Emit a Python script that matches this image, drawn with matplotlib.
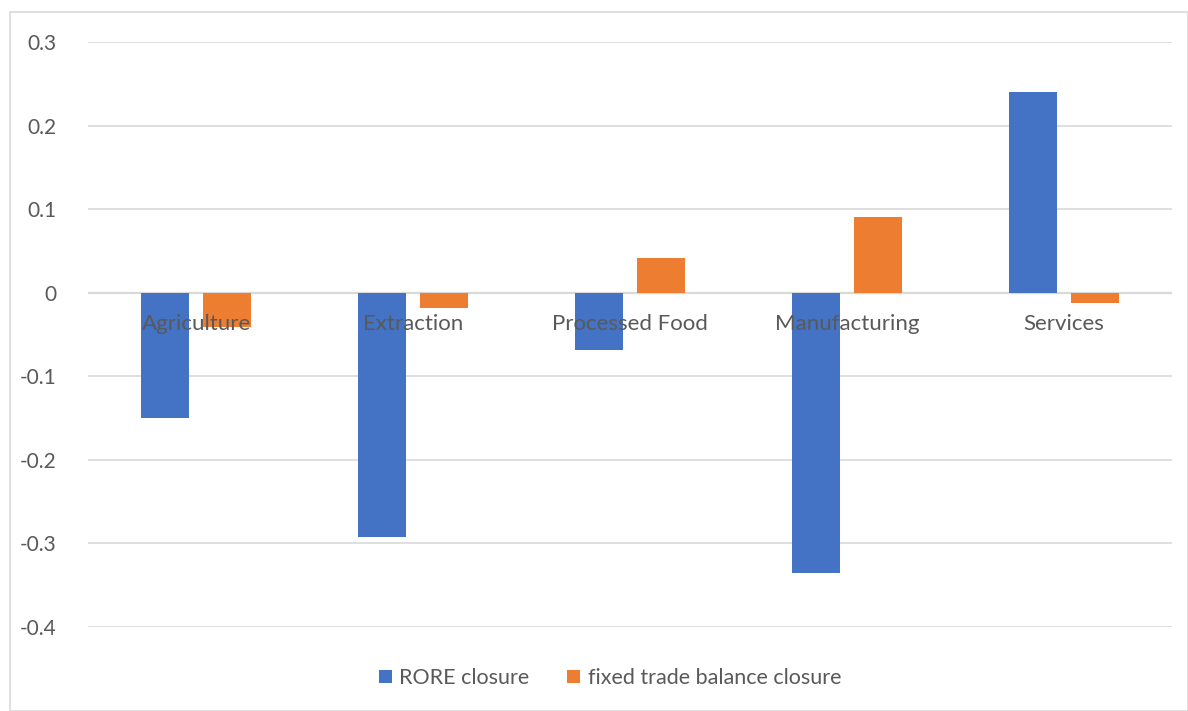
import matplotlib
matplotlib.use("Agg")
import matplotlib.pyplot as plt
from matplotlib.patches import Rectangle
import numpy as np

categories = ["Agriculture", "Extraction", "Processed Food", "Manufacturing", "Services"]
rore = [-0.150, -0.292, -0.069, -0.335, 0.240]
fixed_tb = [-0.041, -0.018, 0.042, 0.090, -0.012]
series_names = ["RORE closure", "fixed trade balance closure"]
yticks = [0.3, 0.2, 0.1, 0, -0.1, -0.2, -0.3, -0.4]

BLUE = "#4472C4"
ORANGE = "#ED7D31"
TXT = "#595959"
GRID = "#D9D9D9"

plt.rcParams['font.family'] = ['Lato', 'DejaVu Sans']

W, H = 1188, 711
fig = plt.figure(figsize=(W / 100, H / 100), dpi=100)
ax = fig.add_axes([88 / W, (H - 627) / H, (1172 - 88) / W, (627 - 42) / H])

x = np.arange(len(categories))
bw = 0.222
off = 0.143
ax.bar(x - off, rore, width=bw, color=BLUE, zorder=2, label=series_names[0])
ax.bar(x + off, fixed_tb, width=bw, color=ORANGE, zorder=2, label=series_names[1])

ax.set_xlim(-0.5, len(categories) - 0.5)
ax.set_ylim(-0.4, 0.3)
ax.set_yticks(yticks)
ax.set_yticklabels([f"{v:g}" for v in yticks])
ax.tick_params(axis='y', length=0, pad=23, labelsize=15, labelcolor=TXT)
ax.set_xticks([])
ax.grid(axis='y', color=GRID, linewidth=1.2, zorder=0)
ax.set_axisbelow(True)
for s in ax.spines.values():
    s.set_visible(False)
ax.axhline(0, color=GRID, linewidth=1.6, zorder=1)

for i, c in enumerate(categories):
    ax.annotate(c, (i, 0), xytext=(0, -31), textcoords='offset pixels',
                ha='center', va='center', fontsize=16, color=TXT, zorder=5)

leg = fig.legend(loc='center', bbox_to_anchor=(610 / W, 1 - 678 / H), ncol=2,
                 frameon=False, fontsize=15.5, handlelength=0.6, handleheight=0.6,
                 handletextpad=0.35, columnspacing=1.75)
for t in leg.get_texts():
    t.set_color(TXT)

fig.patches.append(Rectangle((10 / W, 0), (W - 10) / W, (H - 12) / H,
                             transform=fig.transFigure, fill=False,
                             edgecolor=GRID, linewidth=1.2))

fig.savefig("out.png", dpi=100)
